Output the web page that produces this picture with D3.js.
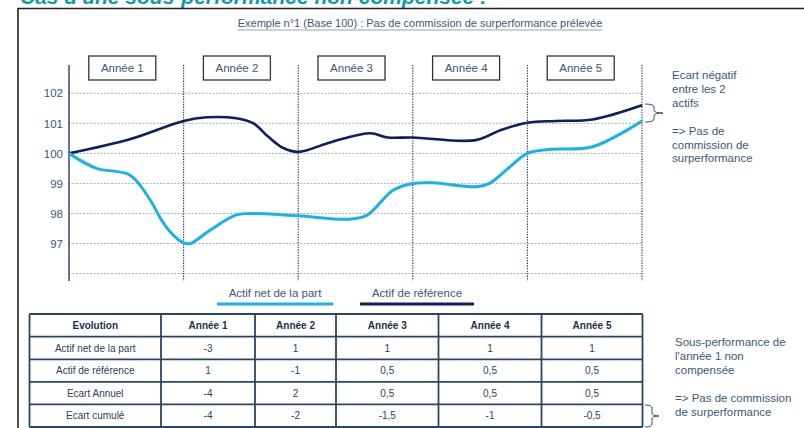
<!DOCTYPE html>
<html>
<head>
<meta charset="utf-8">
<script src="https://cdn.jsdelivr.net/npm/d3@7"></script>
<style>
  body { margin: 0; background: #fff; }
  svg { font-family: "Liberation Sans", Arial, sans-serif; }
</style>
</head>
<body>
<svg id="chart" width="804" height="428"></svg>
<script>
// chart data
const years = ["Année 1", "Année 2", "Année 3", "Année 4", "Année 5"];
const yTicks = [97, 98, 99, 100, 101, 102];

// reference asset (time in years, value)
const refT = [0, 0.53, 1, 1.2, 1.46, 1.61, 1.74, 1.87, 2, 2.3, 2.63, 2.78, 3, 3.55, 3.77, 4, 4.25, 4.57, 5];
const refV = [100, 100.47, 101.08, 101.2, 101.17, 101.0, 100.55, 100.18, 100.05, 100.39, 100.67, 100.53, 100.53, 100.44, 100.78, 101.02, 101.08, 101.13, 101.6];

// net asset of the share
const netT = [0, 0.24, 0.53, 0.71, 0.79, 0.88, 1, 1.06, 1.23, 1.46, 1.61, 2, 2.45, 2.6, 2.83, 3, 3.17, 3.56, 3.67, 3.85, 4, 4.19, 4.57, 5];
const netV = [100, 99.5, 99.28, 98.44, 97.89, 97.4, 97.02, 97.0, 97.44, 97.95, 98.0, 97.92, 97.81, 97.94, 98.78, 99.0, 99.02, 98.89, 99.0, 99.56, 100.0, 100.13, 100.22, 101.08];

// table
const tableHead = ["Evolution", "Année 1", "Année 2", "Année 3", "Année 4", "Année 5"];
const tableRows = [
  ["Actif net de la part", "-3", "1", "1", "1", "1"],
  ["Actif de référence", "1", "-1", "0,5", "0,5", "0,5"],
  ["Ecart Annuel", "-4", "2", "0,5", "0,5", "0,5"],
  ["Ecart cumulé", "-4", "-2", "-1,5", "-1", "-0,5"]
];

const noteTop = ["Ecart négatif", "entre les 2", "actifs", "", "=> Pas de", "commission  de", "surperformance"];
const noteBottom = ["Sous-performance de", "l'année 1 non", "compensée", "", "=> Pas de commission", "de surperformance"];

const navy = "#0d1f5c", cyan = "#1ab0e8", textCol = "#3b5878";

const svg = d3.select("#chart");

// page title (cut by the top edge, as in the source)
svg.append("text").attr("x", 20).attr("y", 4)
  .attr("font-size", 21).attr("font-weight", "bold").attr("font-style", "italic")
  .attr("fill", "#0f9aa6").text("Cas d'une sous-performance non compensée !");

// frame
svg.append("path").attr("d", "M18,428V8.5H804").attr("fill", "none")
  .attr("stroke", "#222").attr("stroke-width", 1.6);

// subtitle
const sub = svg.append("text").attr("x", 420).attr("y", 27).attr("text-anchor", "middle")
  .attr("font-size", 11).attr("fill", textCol)
  .text("Exemple  n°1 (Base 100) : Pas de commission de surperformance prélevée");
const sw = sub.node().getComputedTextLength();
svg.append("line").attr("x1", 420 - sw / 2).attr("x2", 420 + sw / 2)
  .attr("y1", 30).attr("y2", 30).attr("stroke", "#9aa3ad").attr("stroke-width", 1.2);

// scales
const x = d3.scaleLinear().domain([0, 5]).range([69, 642]);
const y = d3.scaleLinear().domain([96, 102]).range([273.5, 93.3]);

// grid
const g = svg.append("g");
g.selectAll(".grid").data([96].concat(yTicks)).join("line")
  .attr("x1", x(0)).attr("x2", x(5))
  .attr("y1", d => y(d)).attr("y2", d => y(d))
  .attr("stroke", "#8f96a3").attr("stroke-width", 0.8).attr("stroke-dasharray", "2,1.5");

// year separators
g.selectAll(".sep").data(d3.range(1, 6)).join("line")
  .attr("x1", d => x(d)).attr("x2", d => x(d))
  .attr("y1", 65).attr("y2", 281)
  .attr("stroke", "#1d2f5e").attr("stroke-width", 1.1).attr("stroke-dasharray", "1.3,1.3");

// y axis
const yAxis = d3.axisLeft(y).tickValues(yTicks).tickFormat(d3.format("d")).tickSize(0).tickPadding(6);
const ya = g.append("g").attr("transform", `translate(${x(0)},0)`).call(yAxis);
ya.select(".domain").remove();
ya.attr("font-family", null).attr("font-size", null);
ya.selectAll("text").attr("font-size", 11.5).attr("fill", textCol);
g.append("line").attr("x1", x(0)).attr("x2", x(0)).attr("y1", 65).attr("y2", 281)
  .attr("stroke", "#3a4a6a").attr("stroke-width", 1.5);

// year boxes
const boxes = g.selectAll(".yb").data(years).join("g")
  .attr("transform", (d, i) => `translate(${x(i + 0.5) - 4},68)`);
boxes.append("rect").attr("x", -33.5).attr("y", -12).attr("width", 67).attr("height", 24)
  .attr("fill", "#fff").attr("stroke", "#333").attr("stroke-width", 1.3);
boxes.append("text").attr("text-anchor", "middle").attr("dy", "0.35em")
  .attr("font-size", 11.5).attr("fill", textCol).text(d => d);

// curves
const line = d3.line().x(d => x(d[0])).y(d => y(d[1])).curve(d3.curveCatmullRom.alpha(0.5));
g.append("path").datum(refT.map((t, i) => [t, refV[i]])).attr("d", line)
  .attr("fill", "none").attr("stroke", navy).attr("stroke-width", 2.6);
g.append("path").datum(netT.map((t, i) => [t, netV[i]])).attr("d", line)
  .attr("fill", "none").attr("stroke", cyan).attr("stroke-width", 3);

// legend
const legend = [
  { label: "Actif net de la part", color: cyan, x1: 217, x2: 333 },
  { label: "Actif de référence", color: navy, x1: 360, x2: 474 }
];
legend.forEach(l => {
  svg.append("text").attr("x", (l.x1 + l.x2) / 2).attr("y", 297).attr("text-anchor", "middle")
    .attr("font-size", 11.5).attr("fill", textCol).text(l.label);
  svg.append("line").attr("x1", l.x1).attr("x2", l.x2).attr("y1", 304).attr("y2", 304)
    .attr("stroke", l.color).attr("stroke-width", 3);
});

// braces
function brace(x0, y0, y1, w) {
  const m = (y0 + y1) / 2, h = w / 2;
  return `M${x0},${y0}Q${x0 + h},${y0} ${x0 + h},${y0 + 3}V${m - 3}Q${x0 + h},${m} ${x0 + w},${m}` +
    `Q${x0 + h},${m} ${x0 + h},${m + 3}V${y1 - 3}Q${x0 + h},${y1} ${x0},${y1}`;
}
svg.append("path").attr("d", brace(645, 104, 122, 18)).attr("fill", "none")
  .attr("stroke", "#3b4f6b").attr("stroke-width", 1);
svg.append("path").attr("d", brace(645, 405, 427, 14)).attr("fill", "none")
  .attr("stroke", "#3b4f6b").attr("stroke-width", 1);

// notes
svg.append("text").attr("font-size", 11.5).attr("fill", textCol)
  .selectAll("tspan").data(noteTop).join("tspan")
  .attr("x", 672).attr("y", (d, i) => 79 + i * 13.9).text(d => d);
svg.append("text").attr("font-size", 11.5).attr("fill", textCol)
  .selectAll("tspan").data(noteBottom).join("tspan")
  .attr("x", 675).attr("y", (d, i) => 346 + i * 14).text(d => d);

// table
const colX = [29.5, 161, 255, 336, 438.5, 541.5, 642.5];
const rowY = [314, 336.7, 359.3, 381.8, 404.3, 427];
const tb = svg.append("g");
tb.selectAll(".hl").data(rowY).join("line")
  .attr("x1", colX[0]).attr("x2", colX[colX.length - 1])
  .attr("y1", d => d).attr("y2", d => d)
  .attr("stroke", "#2b4763").attr("stroke-width", 1.8);
tb.selectAll(".vl").data(colX).join("line")
  .attr("x1", d => d).attr("x2", d => d)
  .attr("y1", rowY[0]).attr("y2", rowY[rowY.length - 1])
  .attr("stroke", "#2b4763").attr("stroke-width", 1.8);
const allRows = [tableHead].concat(tableRows);
allRows.forEach((row, r) => {
  tb.selectAll(".c" + r).data(row).join("text")
    .attr("x", (d, c) => (colX[c] + colX[c + 1]) / 2)
    .attr("y", (rowY[r] + rowY[r + 1]) / 2)
    .attr("dy", "0.35em").attr("text-anchor", "middle")
    .attr("font-size", 10)
    .attr("font-weight", r === 0 ? "bold" : "normal")
    .attr("fill", r === 0 ? "#1c2e50" : "#2e4060")
    .text(d => d);
});
</script>
</body>
</html>
